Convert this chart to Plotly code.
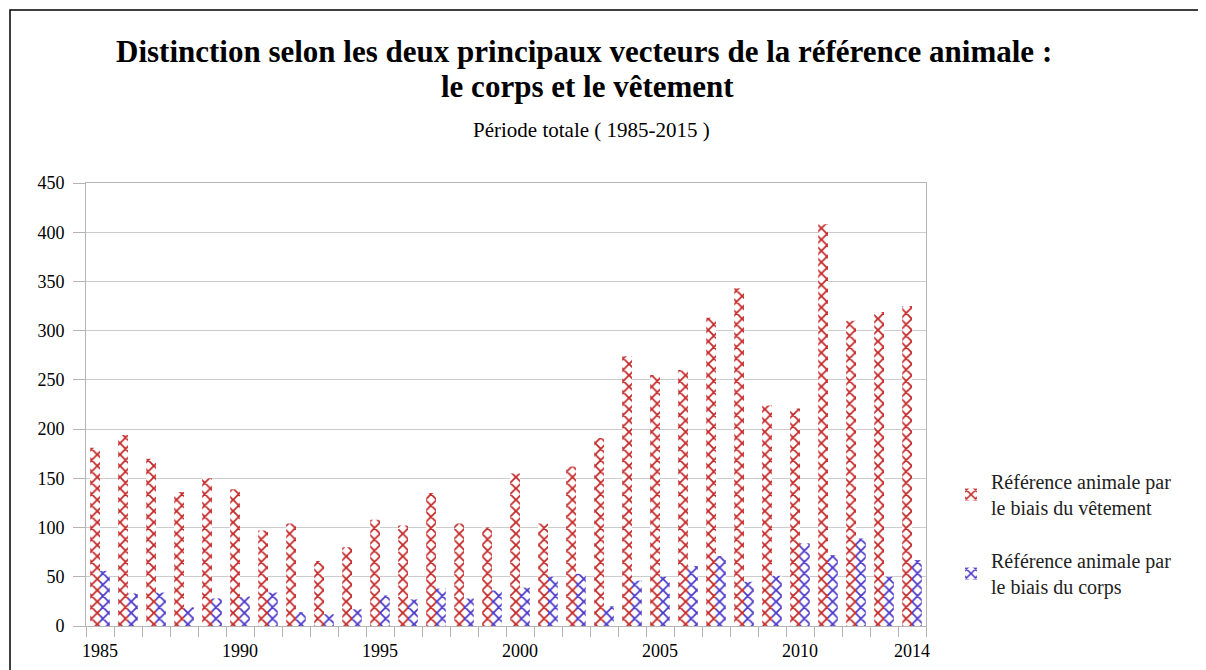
import plotly.graph_objects as go

# annual counts
years = list(range(1985, 2015))
vetement = [181, 194, 170, 136, 150, 139, 97, 104, 66, 80,
            108, 102, 135, 104, 100, 155, 104, 162, 191, 274,
            255, 260, 313, 343, 224, 221, 408, 310, 319, 325]
corps = [56, 33, 34, 19, 28, 30, 34, 14, 12, 17,
         31, 27, 38, 28, 36, 39, 50, 53, 20, 46,
         50, 61, 71, 45, 51, 84, 72, 89, 50, 67]
labelled_years = [1985, 1990, 1995, 2000, 2005, 2010, 2014]
y_ticks = [0, 50, 100, 150, 200, 250, 300, 350, 400, 450]

RED = "#c42828"
BLUE = "#4a38c8"
SERIF = "Liberation Serif, Times New Roman, serif"

# the page puts the figure 8px in from the top-left corner
OFF = 8
W, H = 1206 - OFF, 670 - OFF
PL, PR, PT, PB = 86 - OFF, 926 - OFF, 183 - OFF, 626 - OFF   # plot area in figure px

cats = [str(y) for y in years]
tick_text = [str(y) if y in labelled_years else "" for y in years]


def px_x(sx):
    return (sx - OFF - PL) / (PR - PL)


def px_y(sy):
    return (PB - (sy - OFF)) / (PB - PT)


def hatched(colour):
    return dict(color="white", line=dict(width=0),
                pattern=dict(shape="x", fgcolor=colour, fgopacity=1, bgcolor="white",
                             size=8, solidity=0.4, fillmode="overlay"))


fig = go.Figure()
fig.add_trace(go.Bar(x=cats, y=vetement, marker=hatched(RED), legendgroup="v",
                     name="Référence animale par<br>le biais du vêtement"))
fig.add_trace(go.Bar(x=cats, y=corps, marker=hatched(BLUE), legendgroup="c",
                     name="Référence animale par<br>le biais du corps"))

fig.update_layout(
    width=W, height=H,
    margin=dict(l=PL, r=W - PR, t=PT, b=H - PB, autoexpand=False),
    paper_bgcolor="white", plot_bgcolor="white",
    barmode="group", bargap=0.3, bargroupgap=0,
    font=dict(family=SERIF, size=18, color="black"),
    legend=dict(
        x=px_x(951), xanchor="left", y=px_y(462), yanchor="top",
        font=dict(family=SERIF, size=20, color="#222"),
        tracegroupgap=24, itemwidth=30,
    ),
    showlegend=True,
)

fig.update_xaxes(
    type="category", tickvals=cats, ticktext=tick_text, tickangle=0,
    tickson="boundaries", ticks="outside", ticklen=10, tickcolor="#b4b4b4",
    ticklabelstandoff=8,
    showline=True, linecolor="#b4b4b4", linewidth=1, mirror=True,
    showgrid=False, automargin=False,
    tickfont=dict(family=SERIF, size=18, color="black"),
)
fig.update_yaxes(
    range=[0, 450], tickvals=y_ticks,
    showgrid=True, gridcolor="#cccccc", gridwidth=1,
    showline=True, linecolor="#b4b4b4", linewidth=1, mirror=True,
    ticks="outside", ticklen=12, tickcolor="#b4b4b4", ticklabelstandoff=5,
    zeroline=False, automargin=False,
    tickfont=dict(family=SERIF, size=18, color="black"),
)

titles = [
    ("<b>Distinction selon les deux principaux vecteurs de la référence animale :</b>", 583.5, 51, 31),
    ("<b>le corps et le vêtement</b>", 587, 87, 31),
    ("Période totale ( 1985-2015 )", 591, 130, 21),
]
for text, sx, sy, size in titles:
    fig.add_annotation(
        text=text, showarrow=False, xref="paper", yref="paper",
        x=px_x(sx), y=px_y(sy), xanchor="center", yanchor="middle",
        font=dict(family=SERIF, size=size, color="black"),
    )

# black frame around the whole picture
fig.add_shape(type="rect", xref="paper", yref="paper",
              x0=px_x(10), x1=px_x(1200), y0=px_y(690), y1=px_y(10),
              line=dict(color="black", width=1.5))

fig.write_html("out.html")
